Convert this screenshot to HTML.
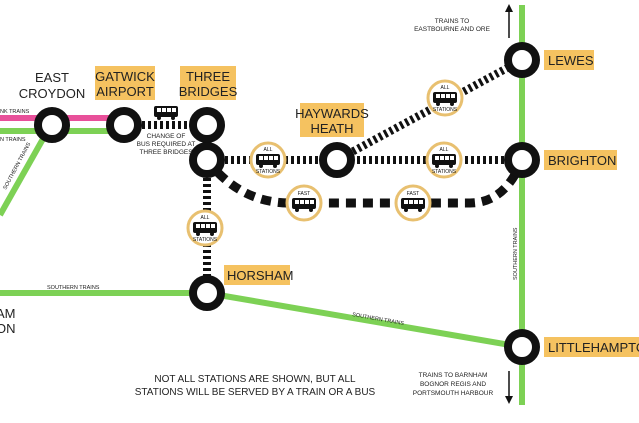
<!DOCTYPE html>
<html><head><meta charset="utf-8"><style>
body{margin:0;background:#fff}
svg{display:block;font-family:"Liberation Sans",sans-serif}
</style></head><body>
<svg width="639" height="423" viewBox="0 0 639 423">
<defs>
<g id="bus"><rect x="-12" y="-6" width="24" height="11" rx="2" fill="#111"/><rect x="-9" y="-4" width="4" height="4" fill="#fff"/><rect x="-4" y="-4" width="4" height="4" fill="#fff"/><rect x="1" y="-4" width="4" height="4" fill="#fff"/><rect x="6" y="-4" width="4" height="4" fill="#fff"/><circle cx="-7" cy="6" r="2" fill="#111"/><circle cx="7" cy="6" r="2" fill="#111"/></g>
</defs>
<!-- green/pink lines -->
<line x1="0" y1="118" x2="124" y2="118" stroke="#e8509a" stroke-width="6"/>
<line x1="0" y1="131" x2="124" y2="131" stroke="#7dd155" stroke-width="6"/>
<line x1="48" y1="130" x2="0" y2="215" stroke="#7dd155" stroke-width="6"/>
<line x1="0" y1="293" x2="207" y2="293" stroke="#7dd155" stroke-width="6"/>
<line x1="207" y1="293" x2="522" y2="347" stroke="#7dd155" stroke-width="6"/>
<line x1="522" y1="5" x2="522" y2="405" stroke="#7dd155" stroke-width="6"/>
<!-- dashed bus routes -->
<g stroke="#111" fill="none">
<line x1="124" y1="125" x2="207" y2="125" stroke-width="8" stroke-dasharray="3,3"/>
<line x1="207" y1="160" x2="522" y2="160" stroke-width="8" stroke-dasharray="3,3"/>
<line x1="337" y1="160" x2="522" y2="60" stroke-width="8" stroke-dasharray="3,3"/>
<line x1="207" y1="160" x2="207" y2="293" stroke-width="8" stroke-dasharray="3,3"/>
<path d="M207 160 Q240 203 290 203 L470 203 Q505 203 522 160" stroke-width="9" stroke-dasharray="10,7"/>
</g>
<!-- stations -->
<g fill="#fff" stroke="#111" stroke-width="8">
<circle cx="52" cy="125" r="14"/><circle cx="124" cy="125" r="14"/>
<circle cx="207" cy="125" r="14"/><circle cx="207" cy="160" r="14"/>
<circle cx="337" cy="160" r="14"/><circle cx="522" cy="60" r="14"/>
<circle cx="522" cy="160" r="14"/><circle cx="207" cy="293" r="14"/>
<circle cx="522" cy="347" r="14"/>
</g>
<!-- bus badges -->
<g fill="#fff" stroke="#e8c070" stroke-width="3">
<circle cx="268" cy="160" r="17"/><circle cx="444" cy="160" r="17"/>
<circle cx="205" cy="228" r="17"/><circle cx="304" cy="203" r="17"/>
<circle cx="413" cy="203" r="17"/><circle cx="445" cy="98" r="17"/>
</g>
<use href="#bus" x="268" y="160"/><use href="#bus" x="444" y="160"/>
<use href="#bus" x="205" y="228"/><use href="#bus" x="304" y="204"/>
<use href="#bus" x="413" y="204"/><use href="#bus" x="445" y="98"/>
<use href="#bus" x="166" y="112"/>
<g font-size="5" text-anchor="middle" fill="#111">
<text x="268" y="151">ALL</text><text x="268" y="173">STATIONS</text>
<text x="444" y="151">ALL</text><text x="444" y="173">STATIONS</text>
<text x="205" y="219">ALL</text><text x="205" y="241">STATIONS</text>
<text x="445" y="89">ALL</text><text x="445" y="111">STATIONS</text>
<text x="304" y="195">FAST</text><text x="413" y="195">FAST</text>
</g>
<!-- labels -->
<g fill="#f5c260">
<rect x="95" y="66" width="60" height="34"/><rect x="180" y="66" width="56" height="34"/>
<rect x="300" y="103" width="64" height="34"/><rect x="544" y="50" width="50" height="20"/>
<rect x="544" y="150" width="73" height="20"/><rect x="224" y="265" width="66" height="20"/>
<rect x="544" y="337" width="95" height="20"/>
</g>
<g font-size="13" fill="#222" text-anchor="middle">
<text x="52" y="82">EAST</text><text x="52" y="98">CROYDON</text>
<text x="125" y="81">GATWICK</text><text x="125" y="96">AIRPORT</text>
<text x="208" y="81">THREE</text><text x="208" y="96">BRIDGES</text>
<text x="332" y="118">HAYWARDS</text><text x="332" y="133">HEATH</text>
</g>
<g font-size="13" fill="#222">
<text x="548" y="65">LEWES</text><text x="548" y="165">BRIGHTON</text>
<text x="227" y="280">HORSHAM</text><text x="548" y="352">LITTLEHAMPTON</text>
<text x="-4" y="318">AM</text><text x="-4" y="333">ON</text>
</g>
<g font-size="5.5" fill="#222">
<text x="0" y="113">NK TRAINS</text><text x="0" y="141">N TRAINS</text>
<text x="47" y="289">SOUTHERN TRAINS</text>
<text x="352" y="316" transform="rotate(10 352 316)">SOUTHERN TRAINS</text>
<text x="6" y="190" transform="rotate(-62 6 190)">SOUTHERN TRAINS</text>
<text x="517" y="280" transform="rotate(-90 517 280)">SOUTHERN TRAINS</text>
</g>
<g font-size="6.5" fill="#222" text-anchor="middle">
<text x="166" y="138">CHANGE OF</text><text x="166" y="146">BUS REQUIRED AT</text><text x="166" y="154">THREE BRIDGES</text>
<text x="452" y="23">TRAINS TO</text><text x="452" y="31">EASTBOURNE AND ORE</text>
<text x="453" y="377">TRAINS TO BARNHAM</text><text x="453" y="386">BOGNOR REGIS AND</text><text x="453" y="395">PORTSMOUTH HARBOUR</text>
</g>
<g font-size="10" fill="#222" text-anchor="middle">
<text x="255" y="382">NOT ALL STATIONS ARE SHOWN, BUT ALL</text>
<text x="255" y="395">STATIONS WILL BE SERVED BY A TRAIN OR A BUS</text>
</g>
<line x1="509" y1="38" x2="509" y2="10" stroke="#111" stroke-width="1.5"/><path d="M505 12 L509 4 L513 12Z" fill="#111"/>
<line x1="509" y1="371" x2="509" y2="398" stroke="#111" stroke-width="1.5"/><path d="M505 396 L509 404 L513 396Z" fill="#111"/>
</svg>
</body></html>
